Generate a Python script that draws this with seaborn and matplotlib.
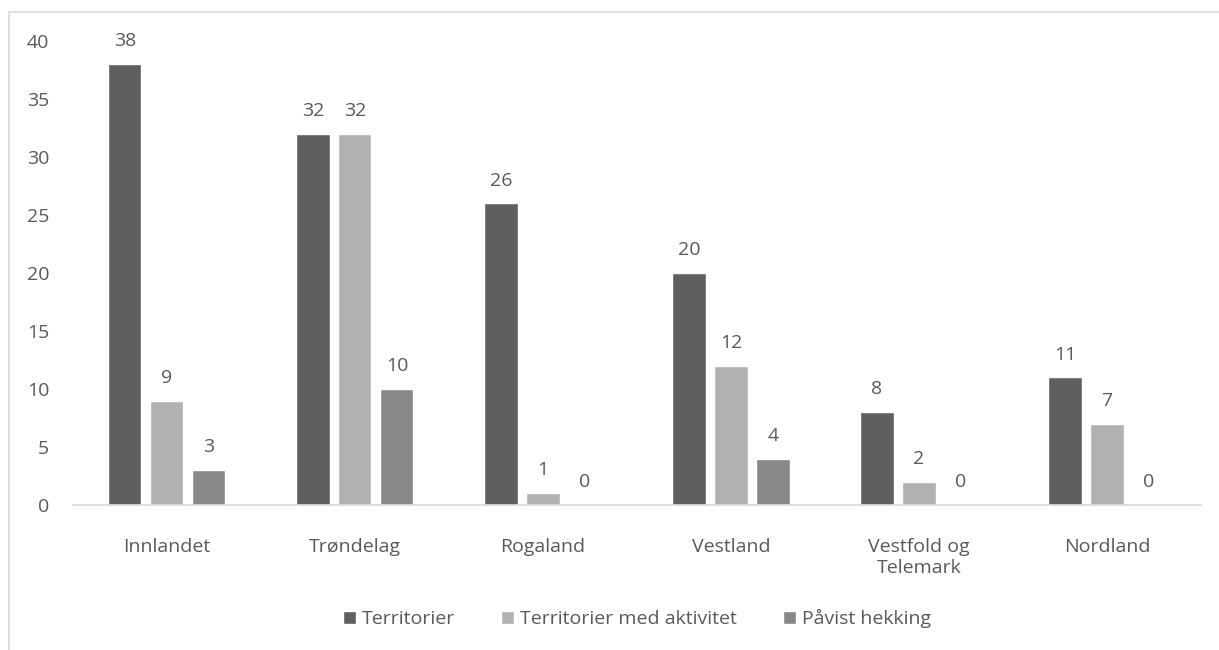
import numpy as np
import pandas as pd
import matplotlib.pyplot as plt
import matplotlib.patches as patches
import seaborn as sns

regions = ['Innlandet', 'Trøndelag', 'Rogaland', 'Vestland', 'Vestfold og\nTelemark', 'Nordland']
territorier = [38, 32, 26, 20, 8, 11]
med_aktivitet = [9, 32, 1, 12, 2, 7]
pavist_hekking = [3, 10, 0, 4, 0, 0]
series = ['Territorier', 'Territorier med aktivitet', 'Påvist hekking']
colors = ['#5f5f5f', '#b1b1b1', '#888888']
yticks = [0, 5, 10, 15, 20, 25, 30, 35, 40]

df = pd.DataFrame({'region': regions * 3,
                   'serie': np.repeat(series, len(regions)),
                   'antall': territorier + med_aktivitet + pavist_hekking})

sns.set_style("white")
plt.rcParams['font.family'] = ['Open Sans', 'DejaVu Sans']
text_col = '#595959'
fs = 14

fig = plt.figure(figsize=(12.19, 6.5), dpi=100)
ax = fig.add_axes([0.0598, 0.2231, 0.9254, 0.7138])

sns.barplot(data=df, x='region', y='antall', hue='serie', hue_order=series,
            palette=colors, width=0.67, gap=0.21, saturation=1, ax=ax, legend=True)

for cont in ax.containers:
    ax.bar_label(cont, padding=10, fontsize=fs, color=text_col)

ax.set_ylim(0, 40)
ax.set_xlim(-0.5, len(regions) - 0.5)
ax.set_yticks(yticks)
ax.set_xlabel('')
ax.set_ylabel('')
ax.tick_params(axis='y', length=0, pad=17, labelsize=fs, labelcolor=text_col)
ax.tick_params(axis='x', length=0, pad=24, labelsize=fs, labelcolor=text_col)
for s in ['left', 'right', 'top']:
    ax.spines[s].set_visible(False)
ax.spines['bottom'].set_color('#d9d9d9')
ax.spines['bottom'].set_linewidth(1.2)

leg = ax.legend(loc='center', bbox_to_anchor=(0.5, -0.245), ncol=3, frameon=False,
                fontsize=fs, handlelength=0.65, handleheight=0.65, handletextpad=0.3,
                columnspacing=2.4)
for t in leg.get_texts():
    t.set_color(text_col)

# chart-area border (Excel style)
fig.patches.append(patches.Rectangle((9 / 1219, -0.1), 1.2, 1 - 12 / 650 + 0.1,
                                     transform=fig.transFigure, fill=False,
                                     edgecolor='#d9d9d9', linewidth=1.2))

fig.savefig('out.png', dpi=100)
